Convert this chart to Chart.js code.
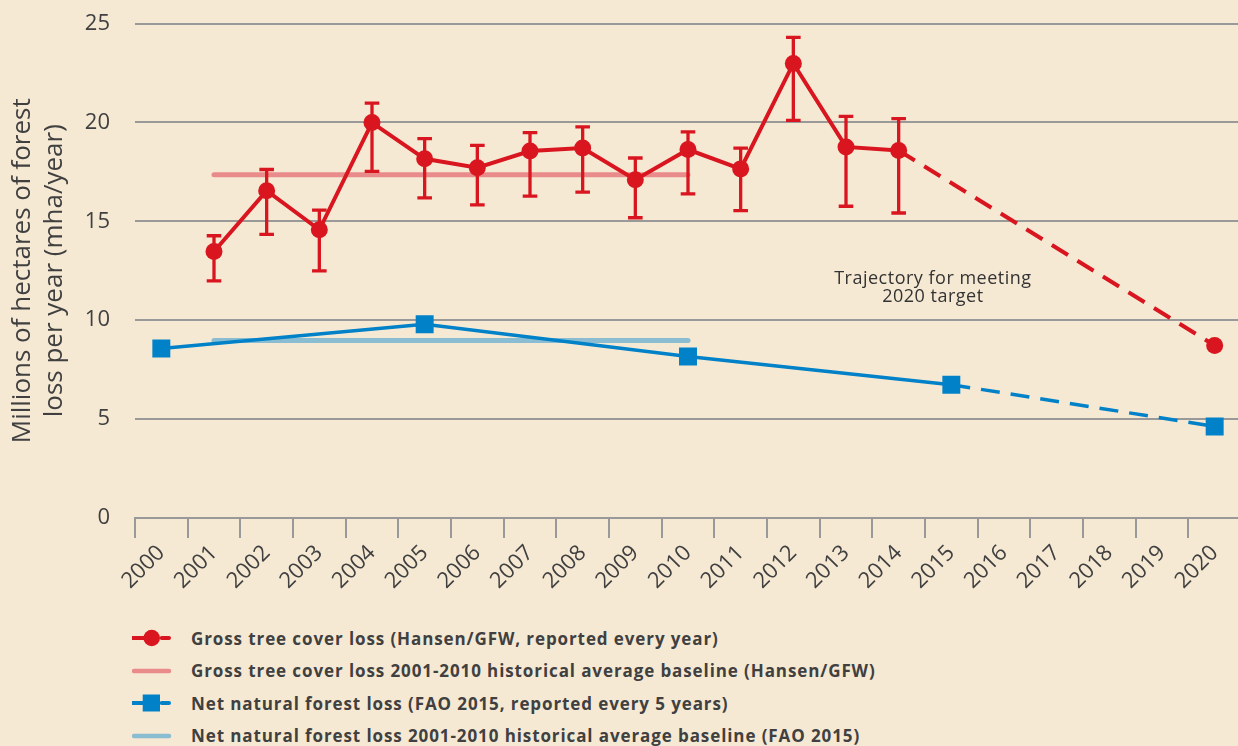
<!DOCTYPE html>
<html>
<head>
<meta charset="utf-8">
<script src="https://cdn.jsdelivr.net/npm/chart.js@4"></script>
<style>
  html, body { margin: 0; padding: 0; overflow: hidden; background: #f6e9d4; }
  body { width: 1238px; height: 746px; position: relative; }
  #wrap { position: absolute; left: 0; top: 0; width: 1241px; height: 612px; }
  #legend { position: absolute; left: 132px; top: 622px; font: bold 17px "Open Sans", sans-serif; letter-spacing: 0.9px; color: #404040; }
  .row { height: 32.5px; display: flex; align-items: center; white-space: nowrap; }
  .row svg { width: 40px; height: 20px; margin-right: 19px; flex: none; }
</style>
</head>
<body>
<div id="wrap"><canvas id="chart"></canvas></div>
<div id="legend"></div>
<script>
const years = ['2000', '2001', '2002', '2003', '2004', '2005', '2006', '2007', '2008', '2009', '2010',
  '2011', '2012', '2013', '2014', '2015', '2016', '2017', '2018', '2019', '2020'];

// Gross tree cover loss (Hansen/GFW), mha/year
const grossLoss = [null, 13.47, 16.55, 14.57, 19.99, 18.16, 17.71, 18.55, 18.7, 17.1, 18.63,
  17.65, 22.98, 18.76, 18.58, null, null, null, null, null, 8.72];
const grossLow = [null, 11.99, 14.34, 12.49, 17.52, 16.18, 15.83, 16.27, 16.47, 15.18, 16.39,
  15.54, 20.1, 15.76, 15.42, null, null, null, null, null, null];
const grossHigh = [null, 14.27, 17.62, 15.57, 20.97, 19.18, 18.84, 19.48, 19.77, 18.2, 19.52,
  18.7, 24.3, 20.3, 20.19, null, null, null, null, null, null];
const grossBaseline = [null, 17.35, 17.35, 17.35, 17.35, 17.35, 17.35, 17.35, 17.35, 17.35, 17.35,
  null, null, null, null, null, null, null, null, null, null];

// Net natural forest loss (FAO 2015)
const netLoss = [8.57, null, null, null, null, 9.79, null, null, null, null, 8.16,
  null, null, null, null, 6.74, null, null, null, null, 4.63];
const netBaseline = [null, 8.97, 8.97, 8.97, 8.97, 8.97, 8.97, 8.97, 8.97, 8.97, 8.97,
  null, null, null, null, null, null, null, null, null, null];

const legendLabels = [
  'Gross tree cover loss (Hansen/GFW, reported every year)',
  'Gross tree cover loss 2001-2010 historical average baseline (Hansen/GFW)',
  'Net natural forest loss (FAO 2015, reported every 5 years)',
  'Net natural forest loss 2001-2010 historical average baseline (FAO 2015)',
];

const RED = '#d9161f';
const RED_BASE = '#e98b8a';
const BLUE = '#0081c8';
const BLUE_BASE = '#8abdd2';
const GRID = '#999999';
const TEXT = '#404040';
const DASH = [19, 11];

const errorBars = {
  id: 'error-bars',
  afterDatasetsDraw(chart) {
    const { ctx, scales } = chart;
    ctx.save();
    ctx.strokeStyle = RED;
    ctx.lineWidth = 3.3;
    grossLow.forEach((lo, i) => {
      if (lo == null) return;
      const x = scales.x.getPixelForValue(i);
      const y1 = scales.y.getPixelForValue(lo);
      const y2 = scales.y.getPixelForValue(grossHigh[i]);
      ctx.beginPath();
      ctx.moveTo(x, y1); ctx.lineTo(x, y2);
      ctx.moveTo(x - 7.3, y1); ctx.lineTo(x + 7.3, y1);
      ctx.moveTo(x - 7.3, y2); ctx.lineTo(x + 7.3, y2);
      ctx.stroke();
    });
    ctx.restore();
  },
};

const annotation = {
  id: 'trajectory-note',
  afterDraw(chart) {
    const { ctx, scales } = chart;
    const x = scales.x.getPixelForValue(14.65);
    const y = scales.y.getPixelForValue(11.62);
    ctx.save();
    ctx.font = '18px "Open Sans", sans-serif';
    ctx.letterSpacing = '0.5px';
    ctx.fillStyle = '#333333';
    ctx.textAlign = 'center';
    ctx.textBaseline = 'middle';
    ctx.fillText('Trajectory for meeting', x, y - 9);
    ctx.fillText('2020 target', x, y + 9);
    ctx.restore();
  },
};

new Chart(document.getElementById('chart'), {
  type: 'line',
  data: {
    labels: years,
    datasets: [
      {
        label: legendLabels[0],
        data: grossLoss,
        borderColor: RED,
        backgroundColor: RED,
        borderWidth: 4,
        pointStyle: 'circle',
        pointRadius: 8.5,
        pointBorderWidth: 0,
        spanGaps: true,
        segment: { borderDash: ctx => ctx.p0DataIndex >= 14 ? DASH : undefined },
      },
      {
        label: legendLabels[2],
        data: netLoss,
        borderColor: BLUE,
        backgroundColor: BLUE,
        borderWidth: 3.5,
        pointStyle: 'rect',
        pointRadius: 12.7,
        pointBorderWidth: 0,
        spanGaps: true,
        segment: { borderDash: ctx => ctx.p0DataIndex >= 15 ? DASH : undefined },
      },
      {
        label: legendLabels[1],
        data: grossBaseline,
        borderColor: RED_BASE,
        borderWidth: 5,
        borderCapStyle: 'round',
        pointRadius: 0,
      },
      {
        label: legendLabels[3],
        data: netBaseline,
        borderColor: BLUE_BASE,
        borderWidth: 5,
        borderCapStyle: 'round',
        pointRadius: 0,
      },
    ],
  },
  options: {
    responsive: true,
    maintainAspectRatio: false,
    animation: false,
    events: [],
    layout: { autoPadding: false, padding: { top: 23.5, left: 0, right: 0, bottom: 0 } },
    plugins: {
      legend: { display: false },
      tooltip: { enabled: false },
    },
    scales: {
      x: {
        offset: true,
        grid: { offset: true, drawOnChartArea: false, drawTicks: true, tickLength: 20, color: GRID, lineWidth: 2 },
        border: { display: true, color: GRID, width: 2 },
        ticks: {
          color: TEXT,
          font: { family: '"Open Sans", sans-serif', size: 22 },
          minRotation: 45,
          maxRotation: 45,
          padding: 2,
          autoSkip: false,
        },
        afterFit: scale => {
          scale.height = 94;
          scale.paddingLeft = 0;
          scale.paddingRight = 0;
        },
      },
      y: {
        min: 0,
        max: 25,
        grid: { color: GRID, lineWidth: 2, drawTicks: false },
        border: { display: false },
        ticks: {
          stepSize: 5,
          color: TEXT,
          padding: 25,
          font: { family: '"Open Sans", sans-serif', size: 22 },
        },
        title: {
          display: true,
          text: ['Millions of hectares of forest', 'loss per year (mha/year)'],
          color: TEXT,
          font: { family: '"Open Sans", sans-serif', size: 26, lineHeight: 1.23 },
          padding: { top: 7, bottom: 0 },
        },
        afterFit: scale => {
          scale.width = 135;
          scale.paddingTop = 0;
          scale.paddingBottom = 0;
        },
      },
    },
  },
  plugins: [errorBars, annotation],
});

// legend below the chart
const symbols = [
  `<line x1="0" y1="10" x2="13" y2="10" stroke="${RED}" stroke-width="4"/>
   <circle cx="19.7" cy="10" r="8.3" fill="${RED}"/>
   <line x1="29.7" y1="10" x2="37" y2="10" stroke="${RED}" stroke-width="4" stroke-linecap="round"/>`,
  `<line x1="2" y1="10" x2="37" y2="10" stroke="${RED_BASE}" stroke-width="4.5" stroke-linecap="round"/>`,
  `<line x1="0" y1="10" x2="12" y2="10" stroke="${BLUE}" stroke-width="4"/>
   <rect x="10.7" y="1.5" width="17.3" height="17" fill="${BLUE}"/>
   <line x1="29.7" y1="10" x2="37" y2="10" stroke="${BLUE}" stroke-width="4" stroke-linecap="round"/>`,
  `<line x1="2" y1="10" x2="37" y2="10" stroke="${BLUE_BASE}" stroke-width="4.5" stroke-linecap="round"/>`,
];
document.getElementById('legend').innerHTML = legendLabels.map((txt, i) =>
  `<div class="row"><svg viewBox="0 0 40 20">${symbols[i]}</svg><span>${txt}</span></div>`
).join('');
</script>
</body>
</html>
